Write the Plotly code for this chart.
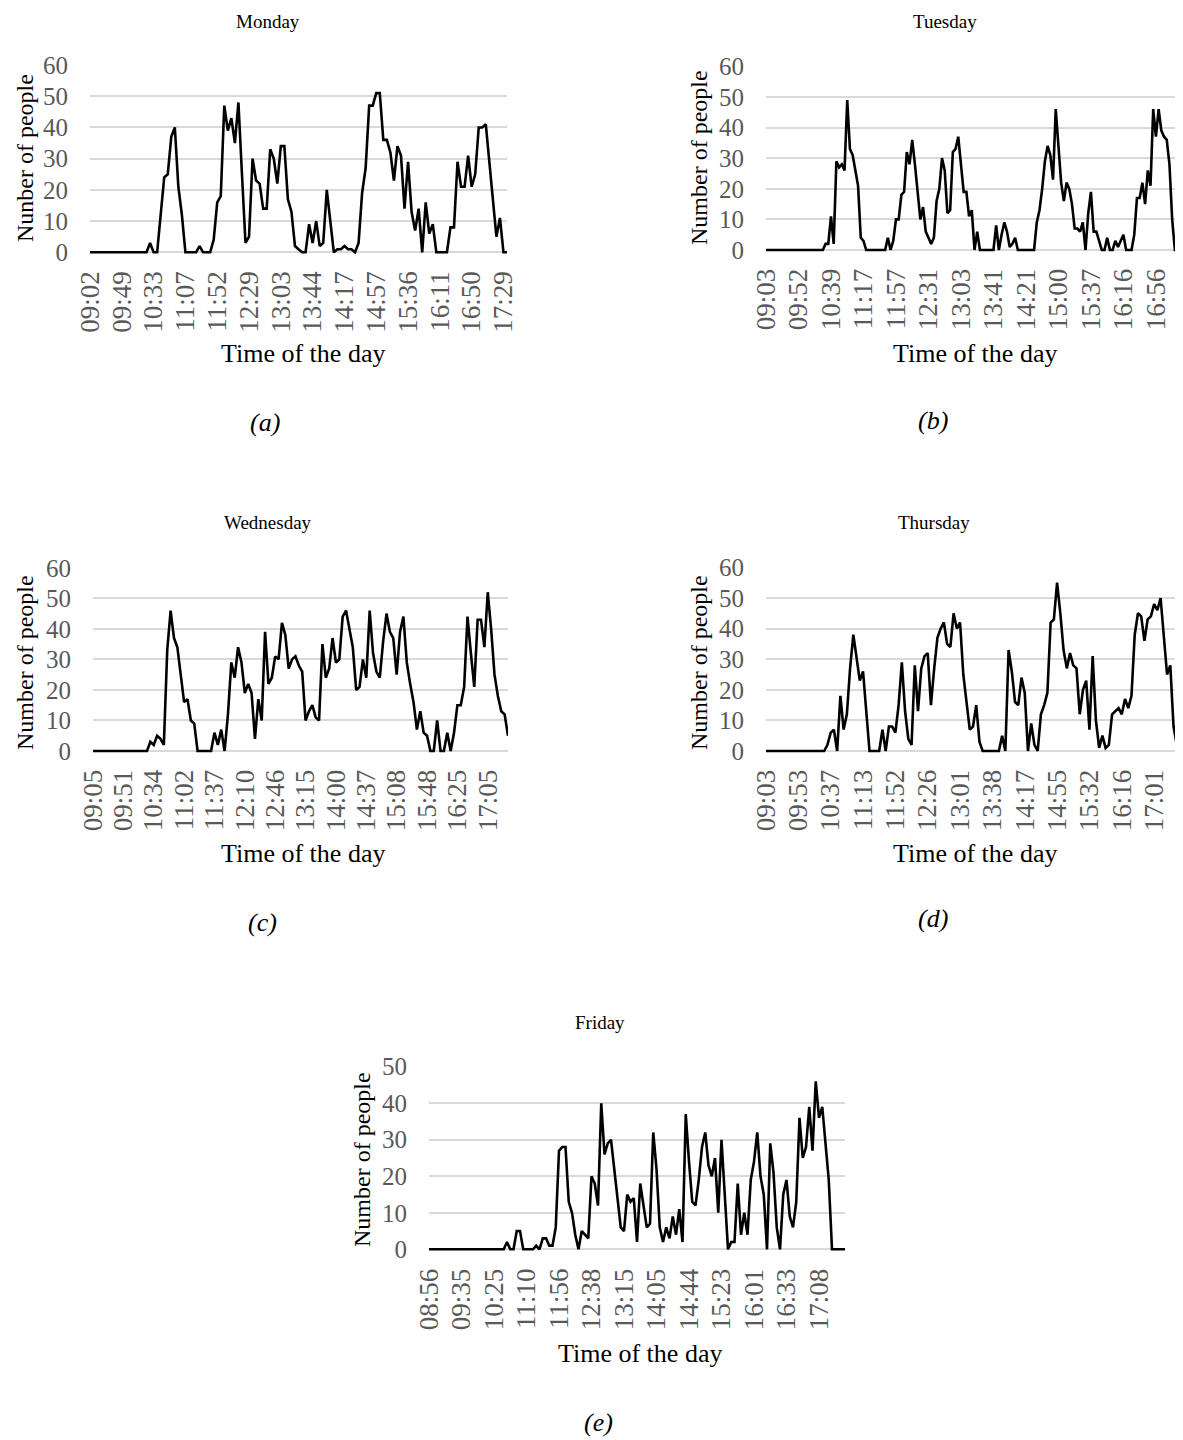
import plotly.graph_objects as go

W, H = 1183, 1440
OFF = 8  # page body margin of the html page, in px
FONT = "Liberation Serif"
GRID = "#d9d9d9"
TICKC = "#595959"

# ---------------- data ----------------
monday_labels = ["09:02", "09:49", "10:33", "11:07", "11:52", "12:29", "13:03",
                 "13:44", "14:17", "14:57", "15:36", "16:11", "16:50", "17:29"]
monday_values = [0, 0, 0, 0, 0, 0, 0, 0, 0, 0, 0, 0, 0, 0, 0, 0, 0,
                 3, 0, 0, 12, 24, 25, 37, 40, 21, 12,
                 0, 0, 0, 0, 2, 0, 0, 0, 4, 16, 18,
                 47, 39, 43, 35, 48, 25, 3, 5, 30, 23,
                 22, 14, 14, 33, 30, 22, 34, 34, 17, 13,
                 2, 1, 0, 0, 9, 3, 10, 2, 3, 20,
                 10, 0, 1, 1, 2, 1, 1, 0, 3, 19,
                 27, 47, 47, 51, 51, 36, 36, 32, 23, 34,
                 31, 14, 29, 13, 7, 14, 0, 16, 6, 9,
                 0, 0, 0, 0, 8, 8, 29, 21, 21, 31,
                 21, 25, 40, 40, 41, 29, 17, 5, 11, 0,
                 0]

tuesday_labels = ["09:03", "09:52", "10:39", "11:17", "11:57", "12:31", "13:03",
                  "13:41", "14:21", "15:00", "15:37", "16:16", "16:56"]
tuesday_values = [0, 0, 0, 0, 0, 0, 0, 0, 0, 0, 0, 0, 0, 0, 0, 0, 0, 0, 0, 0, 0, 0,
                  2, 2, 11, 2, 29, 27, 28, 26, 49, 33, 31, 26, 21, 4, 3,
                  0, 0, 0, 0, 0, 0, 0, 0,
                  4, 0, 3, 10, 10, 18, 19, 32, 28, 36, 28, 19, 10, 14, 6, 4, 2, 4,
                  16, 20, 30, 26, 12, 13, 32, 33, 37, 28, 19, 19, 11, 13, 0, 6, 0,
                  0, 0, 0, 0, 0,
                  8, 0, 5, 9, 6, 1, 2, 4,
                  0, 0, 0, 0, 0, 0, 0,
                  9, 13, 20, 29, 34, 31, 23, 46, 34, 22, 16, 22, 20, 15, 7, 7, 6, 9,
                  0, 12, 19, 6, 6, 3, 0, 0, 4, 0, 0, 3, 1, 3, 5, 0, 0, 0,
                  5, 17, 17, 22, 15, 26, 21, 46, 37, 46, 39, 37, 36, 28, 10,
                  0, 0, 0, 0]

wednesday_labels = ["09:05", "09:51", "10:34", "11:02", "11:37", "12:10", "12:46",
                    "13:15", "14:00", "14:37", "15:08", "15:48", "16:25", "17:05"]
wednesday_values = [0, 0, 0, 0, 0, 0, 0, 0, 0, 0, 0, 0, 0, 0, 0, 0, 0,
                    3, 2, 5, 4, 2, 33, 46, 37, 34, 24,
                    16, 17, 10, 9, 0, 0, 0, 0, 0, 6,
                    2, 7, 0, 12, 29, 24, 34, 29, 19, 22,
                    19, 4, 17, 10, 39, 22, 24, 31, 30, 42,
                    38, 27, 30, 31, 28, 26, 10, 13, 15, 11,
                    10, 35, 24, 27, 37, 29, 30, 44, 46, 40,
                    34, 20, 21, 30, 24, 46, 32, 26, 24, 36,
                    45, 39, 37, 25, 39, 44, 29, 22, 16, 7,
                    13, 6, 5, 0, 0, 10, 0, 0, 6, 0,
                    6, 15, 15, 21, 44, 32, 21, 43, 43, 34,
                    52, 40, 25, 18, 13, 12, 5]

thursday_labels = ["09:03", "09:53", "10:37", "11:13", "11:52", "12:26", "13:01",
                   "13:38", "14:17", "14:55", "15:32", "16:16", "17:01"]
thursday_values = [0, 0, 0, 0, 0, 0, 0, 0, 0, 0, 0, 0, 0, 0, 0, 0, 0, 0, 0,
                   2, 6, 7, 0, 18, 7, 12, 27, 38, 30, 23, 26, 13,
                   0, 0, 0, 0, 7, 0, 8, 8, 6, 15, 29, 13, 4, 2,
                   28, 13, 27, 31, 32, 15, 27, 37, 40, 42, 35, 34, 45, 40, 42,
                   25, 16, 7, 8, 15, 3, 0, 0, 0, 0, 0, 0, 5, 0,
                   33, 26, 16, 15, 24, 19, 0, 9, 2, 0, 12, 15, 19,
                   42, 43, 55, 45, 33, 27, 32, 28, 27, 12, 20, 23, 7, 31, 10,
                   1, 5, 1, 2, 12, 13, 14, 12, 17, 14, 18,
                   38, 45, 44, 36, 43, 44, 48, 46, 50, 38, 25, 28, 8, 2, 0]

friday_labels = ["08:56", "09:35", "10:25", "11:10", "11:56", "12:38", "13:15",
                 "14:05", "14:44", "15:23", "16:01", "16:33", "17:08"]
friday_values = [0, 0, 0, 0, 0, 0, 0, 0, 0, 0, 0, 0, 0, 0, 0, 0, 0, 0, 0, 0, 0, 0, 0, 0,
                 2, 0, 0, 5, 5, 0, 0, 0, 0, 1,
                 0, 3, 3, 1, 1, 6, 27, 28, 28, 13,
                 10, 4, 0, 5, 4, 3, 20, 18, 12, 40,
                 26, 29, 30, 22, 14, 6, 5, 15, 13, 14,
                 2, 18, 12, 6, 7, 32, 22, 6, 2, 6,
                 3, 9, 4, 11, 2, 37, 24, 13, 12, 19,
                 28, 32, 23, 20, 25, 10, 30, 15, 0, 2,
                 2, 18, 4, 10, 4, 19, 24, 32, 20, 15,
                 0, 29, 21, 6, 0, 15, 19, 9, 6, 13,
                 36, 25, 28, 39, 27, 46, 36, 39, 30, 19,
                 0, 0, 0, 0, 0]

# ---------------- layout per panel (pixel geometry in the window) ----------------
panels = [
    dict(day="Monday", vals=monday_values, labels=monday_labels, step=9,
         x0=90, x1=507, yzero=252.3, ytop=65.0, ymax=60,
         title=(268, 22), ytitle=(25, 158), xtitle=(303, 353),
         caption="(a)", cap=(265, 423), ytext="Nunber of people"),
    dict(day="Tuesday", vals=tuesday_values, labels=tuesday_labels, step=12,
         x0=766, x1=1183, yzero=250.0, ytop=66.3, ymax=60,
         title=(945, 22), ytitle=(699, 158), xtitle=(975, 353),
         caption="(b)", cap=(933, 420), ytext="Number of people"),
    dict(day="Wednesday", vals=wednesday_values, labels=wednesday_labels, step=9,
         x0=93, x1=508, yzero=751.0, ytop=567.8, ymax=60,
         title=(268, 522), ytitle=(25, 663), xtitle=(303, 853),
         caption="(c)", cap=(262, 922), ytext="Number of people"),
    dict(day="Thursday", vals=thursday_values, labels=thursday_labels, step=10,
         x0=766, x1=1180, yzero=751.0, ytop=567.4, ymax=60,
         title=(934, 522), ytitle=(699, 663), xtitle=(975, 853),
         caption="(d)", cap=(933, 918), ytext="Number of people"),
    dict(day="Friday", vals=friday_values, labels=friday_labels, step=10,
         x0=429, x1=845, yzero=1249.3, ytop=1066.7, ymax=50,
         title=(600, 1022), ytitle=(362, 1160), xtitle=(640, 1353),
         caption="(e)", cap=(598, 1422), ytext="Number of people"),
]


def px_x(px):
    return (px - OFF) / W


def px_y(py):
    return 1 - (py - OFF) / H


fig = go.Figure()
annotations = []
PAD = 0.8

for i, p in enumerate(panels):
    n = len(p["vals"])
    sfx = "" if i == 0 else str(i + 1)
    fig.add_trace(go.Scatter(
        x=list(range(n)), y=p["vals"], mode="lines",
        line=dict(color="black", width=2.6),
        xaxis="x" + sfx, yaxis="y" + sfx, showlegend=False,
        hoverinfo="skip"))
    ppu = (p["yzero"] - p["ytop"]) / p["ymax"]
    bottom_px = p["yzero"] + PAD * ppu
    fig.layout["xaxis" + sfx] = dict(
        domain=[px_x(p["x0"]), min(1.0, px_x(p["x1"]))], anchor="y" + sfx,
        automargin=False,
        range=[0, n - 1], showgrid=False, zeroline=False, showline=False,
        tickmode="array",
        tickvals=[j * p["step"] for j in range(len(p["labels"]))],
        ticktext=p["labels"], tickangle=-90, ticks="",
        ticklabelstandoff=10,
        tickfont=dict(family=FONT, size=27, color=TICKC))
    fig.layout["yaxis" + sfx] = dict(
        domain=[px_y(bottom_px), px_y(p["ytop"])], anchor="x" + sfx,
        automargin=False,
        range=[-PAD, p["ymax"]], tick0=0, dtick=10, tickmode="linear",
        showgrid=True, gridcolor=GRID, gridwidth=1.6, zeroline=False,
        showline=False, ticks="", ticklabelstandoff=21,
        tickfont=dict(family=FONT, size=25, color=TICKC))
    annotations.append(dict(
        text=p["day"], x=px_x(p["title"][0]), y=px_y(p["title"][1]),
        xref="paper", yref="paper", showarrow=False, xanchor="center", yanchor="middle",
        font=dict(family=FONT, size=19, color="black")))
    annotations.append(dict(
        text=p["ytext"], x=px_x(p["ytitle"][0]), y=px_y(p["ytitle"][1]),
        xref="paper", yref="paper", showarrow=False, textangle=-90,
        xanchor="center", yanchor="middle", borderpad=0,
        font=dict(family=FONT, size=24, color="black")))
    annotations.append(dict(
        text="Time of the day", x=px_x(p["xtitle"][0]), y=px_y(p["xtitle"][1]),
        xref="paper", yref="paper", showarrow=False, xanchor="center", yanchor="middle",
        font=dict(family=FONT, size=26, color="black")))
    annotations.append(dict(
        text="<i>" + p["caption"] + "</i>", x=px_x(p["cap"][0]), y=px_y(p["cap"][1]),
        xref="paper", yref="paper", showarrow=False, xanchor="center", yanchor="middle",
        font=dict(family=FONT, size=26, color="black")))

fig.update_layout(
    width=W, height=H, margin=dict(l=0, r=0, t=0, b=0, autoexpand=False),
    paper_bgcolor="white", plot_bgcolor="white",
    annotations=annotations, showlegend=False)

fig.write_html("out.html")
